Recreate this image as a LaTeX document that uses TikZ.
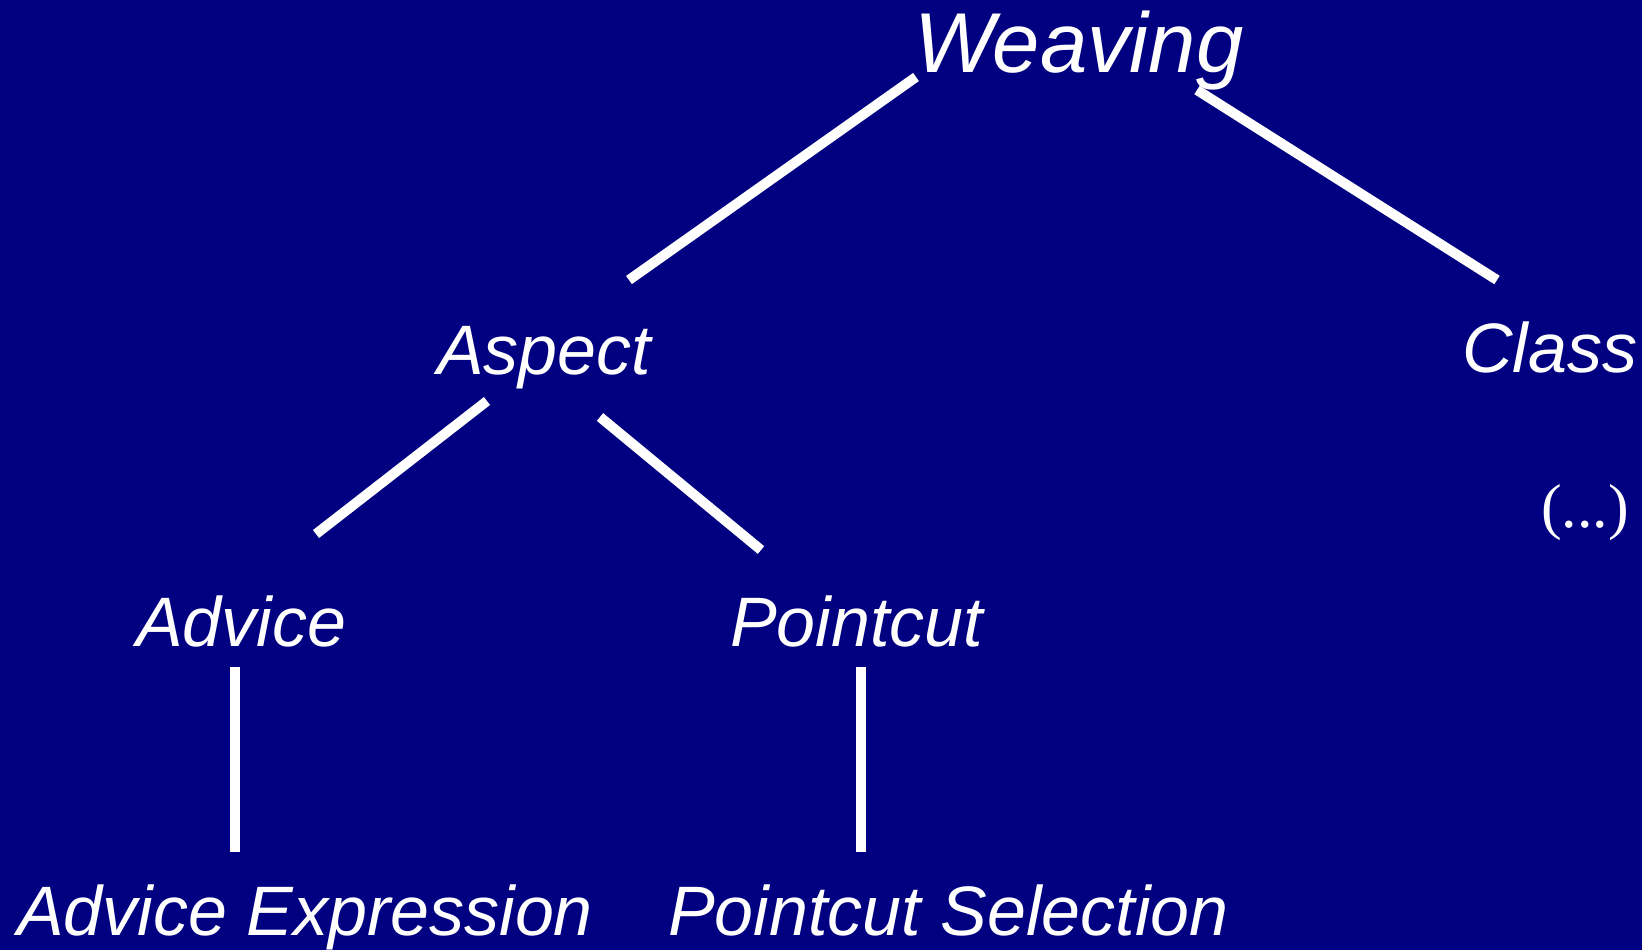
\documentclass[tikz,border=0pt]{standalone}
\usepackage{fontspec}
\setmainfont{Liberation Sans}
\newfontfamily\serifnum{Liberation Serif}
\definecolor{bgnavy}{RGB}{0,0,128}
\begin{document}
\begin{tikzpicture}[x=1pt,y=-1pt,
  lbl/.style={text=white,inner sep=0pt,anchor=base west,font=\fontsize{70}{80}\selectfont\itshape},
  big/.style={lbl,font=\fontsize{85}{95}\selectfont\itshape},
  edge/.style={draw=white,line width=10pt,line cap=butt}]
\fill[bgnavy] (0,0) rectangle (1642,950);
\useasboundingbox (0,0) rectangle (1642,950);
% nodes
\node[big] (weaving) at (914,73) {Weaving};
\node[lbl] (aspect) at (437,374) {Aspect};
\node[lbl] (class) at (1462,372) {Class};
\node[text=white,inner sep=0pt,anchor=base west,font=\serifnum\fontsize{62}{70}\selectfont] (more) at (1541,527) {(...)};
\node[lbl] (advice) at (136,646) {Advice};
\node[lbl] (pointcut) at (730,646) {Pointcut};
\node[lbl] (adviceexpr) at (17,935) {Advice Expression};
\node[lbl] (pointcutsel) at (668,935) {Pointcut Selection};
% connector ends
\coordinate (w1) at (916,77);
\coordinate (a0) at (629,280);
\coordinate (w2) at (1197,90);
\coordinate (c0) at (1497,280);
\coordinate (a1) at (487,401);
\coordinate (ad0) at (316,534);
\coordinate (a2) at (600,417);
\coordinate (p0) at (761,550);
\coordinate (ad1) at (235,667);
\coordinate (ae0) at (235,852);
\coordinate (p1) at (861,667);
\coordinate (ps0) at (861,852);
\draw[edge] (w1) -- (a0);
\draw[edge] (w2) -- (c0);
\draw[edge] (a1) -- (ad0);
\draw[edge] (a2) -- (p0);
\draw[edge] (ad1) -- (ae0);
\draw[edge] (p1) -- (ps0);
\end{tikzpicture}
\end{document}
